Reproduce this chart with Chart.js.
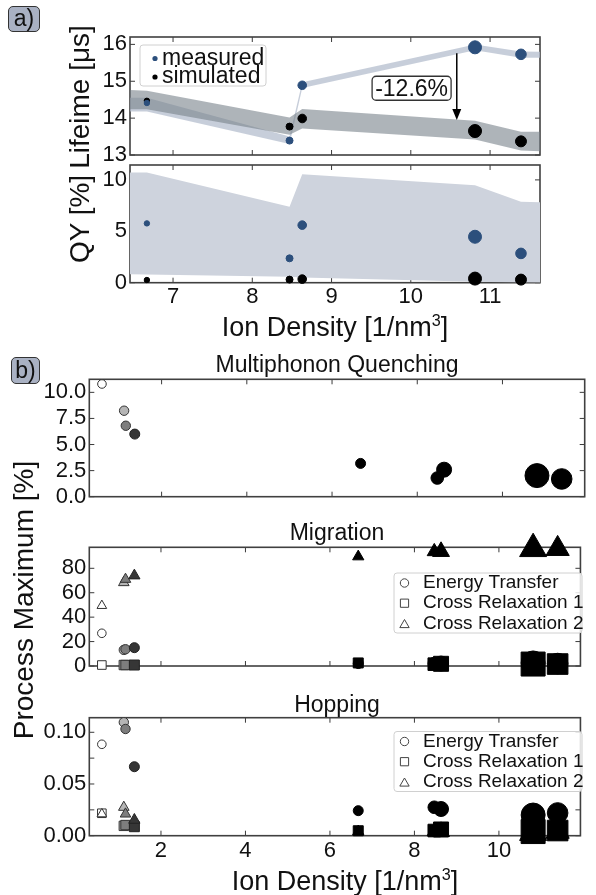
<!DOCTYPE html>
<html>
<head>
<meta charset="utf-8">
<script src="https://cdn.jsdelivr.net/npm/chart.js@4.4.1/dist/chart.umd.min.js"></script>
<style>
html, body { margin: 0; padding: 0; background: #fff; }
#fig { position: relative; width: 596px; height: 895px; overflow: hidden; font-family: "Liberation Sans", Arial, sans-serif; color: #111; }
#fig canvas { position: absolute; left: 0; top: 0; }
.lbl { position: absolute; white-space: nowrap; transform: translate(-50%, -50%); line-height: 1; }
.rot { transform: translate(-50%, -50%) rotate(-90deg); }
.tag { position: absolute; box-sizing: border-box; background: #a9b1c3; border: 1.5px solid #333; border-radius: 5px; font-size: 23px; text-align: center; }
sup { font-size: 60%; }
</style>
</head>
<body>
<div id="fig">
  <canvas id="life" width="596" height="895"></canvas>
  <canvas id="qy" width="596" height="895"></canvas>
  <canvas id="mq" width="596" height="895"></canvas>
  <canvas id="mig" width="596" height="895"></canvas>
  <canvas id="hop" width="596" height="895"></canvas>

  <div class="tag" style="left:8px;top:6px;width:32px;height:26px;line-height:23px;">a)</div>
  <div class="tag" style="left:11px;top:357px;width:29px;height:27px;line-height:24px;">b)</div>

  <div class="lbl rot" style="left:80px;top:97px;font-size:28px;">Lifeime [μs]</div>
  <div class="lbl rot" style="left:80px;top:219px;font-size:28px;">QY [%]</div>
  <div class="lbl" style="left:335px;top:326px;font-size:27px;">Ion Density [1/nm<sup>3</sup>]</div>

  <div class="lbl" style="left:337px;top:364px;font-size:23px;">Multiphonon Quenching</div>
  <div class="lbl" style="left:337px;top:532px;font-size:23px;">Migration</div>
  <div class="lbl" style="left:337px;top:704px;font-size:23px;">Hopping</div>
  <div class="lbl rot" style="left:24px;top:600px;font-size:28px;">Process Maximum [%]</div>
  <div class="lbl" style="left:345px;top:880px;font-size:27px;">Ion Density [1/nm<sup>3</sup>]</div>
</div>

<script>
// ---- panel a data ----
const densA = [6.67, 8.47, 8.63, 10.81, 11.39];
const lifeMeasured = [14.41, 13.39, 14.89, 15.92, 15.73];
const lifeSimulated = [14.47, 13.77, 13.99, 13.65, 13.37];
const qyMeasured = [5.77, 2.37, 5.6, 4.47, 2.85];
const qySimulated = [0.26, 0.3, 0.35, 0.4, 0.3];
const sizeMeasured = [2.7, 3.5, 4.3, 6.5, 5.3];
const sizeSimulated = [2.7, 3.5, 4.3, 6.5, 5.5];

// error bands (edges of the x range included)
const bandX = [6.457, 6.67, 8.47, 8.63, 10.81, 11.39, 11.63];
const lifeMeasHi = [14.55, 14.55, 13.5, 14.97, 16.0, 15.81, 15.8];
const lifeMeasLo = [14.18, 14.18, 13.3, 14.82, 15.84, 15.64, 15.64];
const lifeSimHi = [14.76, 14.74, 14.02, 14.25, 13.93, 13.63, 13.63];
const lifeSimLo = [14.24, 14.24, 13.55, 13.72, 13.42, 13.12, 13.1];
const qyHi = [10.72, 10.72, 7.38, 10.55, 9.49, 7.87, 7.82];
const qyLo = [0.82, 0.8, 0.58, 0.5, 0.1, 0.03, 0.0];

// annotation
const annotX = 10.58, annotFrom = 15.76, annotTo = 13.95;
const annotTextX = 10.01, annotTextY = 14.81, annotText = '-12.6%';

// ---- panel b data ----
const densB = [0.6, 1.12, 1.16, 1.37, 6.67, 8.47, 8.63, 10.81, 11.39];
const sizeB = [4.3, 4.7, 4.7, 5, 5, 6.3, 7.5, 12, 10.3];
const fillB = ['#ffffff', '#b5b5b5', '#7d7d7d', '#363636', '#000', '#000', '#000', '#000', '#000'];
const edgeB = ['#333', '#333', '#333', '#222', '#000', '#000', '#000', '#000', '#000'];
const mqValues = [10.8, 8.24, 6.8, 6.0, 3.19, 1.79, 2.59, 2.02, 1.7];
const migEnergy = [26.8, 13.2, 13.7, 15.0, 2.0, 2.0, 2.0, 2.5, 2.0];
const migCross1 = [0.8, 0.8, 0.8, 0.8, 2.5, 1.5, 1.8, 1.6, 1.6];
const migCross2 = [49.4, 68.3, 71.0, 74.0, 89.6, 93.7, 93.7, 96.0, 96.0];
const hopEnergy = [0.0884, 0.1097, 0.1032, 0.0667, 0.0242, 0.0275, 0.0258, 0.020, 0.022];
const hopCross1 = [0.0217, 0.0095, 0.0103, 0.0087, 0.0048, 0.005, 0.006, 0.004, 0.005];
const hopCross2 = [0.021, 0.0275, 0.021, 0.0152, 0.004, 0.004, 0.004, 0.003, 0.004];

// ---- ticks ----
const ticksAx = [7, 8, 9, 10, 11];
const ticksLife = [13, 14, 15, 16];
const ticksQY = [0, 5, 10];
const ticksBx = [2, 4, 6, 8, 10];
const ticksMQ = [0, 2.5, 5, 7.5, 10];
const ticksMig = [0, 20, 40, 60, 80];
const ticksHop = [0, 0.025, 0.05, 0.075, 0.1];

const FONT = "'Liberation Sans', Arial, sans-serif";
Chart.defaults.font.family = FONT;
Chart.defaults.color = '#111';

const W = 596, H = 895, XH = 40;
const BLUE = '#2c4f7c';

// frame + inward ticks on all four sides
const frameTicks = {
    id: 'frameTicks',
    beforeDatasetsDraw(chart) {
        const { ctx, chartArea: a, scales: { x, y } } = chart;
        const len = 5;
        ctx.save();
        ctx.strokeStyle = '#3a3a3a';
        ctx.lineWidth = 1;
        ctx.beginPath();
        x.ticks.forEach(t => {
            const p = x.getPixelForValue(t.value);
            ctx.moveTo(p, a.bottom); ctx.lineTo(p, a.bottom - len);
            ctx.moveTo(p, a.top); ctx.lineTo(p, a.top + len);
        });
        y.ticks.forEach(t => {
            const p = y.getPixelForValue(t.value);
            ctx.moveTo(a.left, p); ctx.lineTo(a.left + len, p);
            ctx.moveTo(a.right, p); ctx.lineTo(a.right - len, p);
        });
        ctx.stroke();
        ctx.lineWidth = 1.6;
        ctx.strokeStyle = '#404040';
        ctx.strokeRect(a.left, a.top, a.width, a.height);
        ctx.restore();
    }
};

function rrect(ctx, x, y, w, h, r) {
    ctx.beginPath();
    ctx.moveTo(x + r, y);
    ctx.arcTo(x + w, y, x + w, y + h, r);
    ctx.arcTo(x + w, y + h, x, y + h, r);
    ctx.arcTo(x, y + h, x, y, r);
    ctx.arcTo(x, y, x + w, y, r);
    ctx.closePath();
}

// o.left = pixel of the left spine (y-scale box width)
function axes(o) {
    return {
        x: {
            type: 'linear', min: o.xmin, max: o.xmax,
            afterFit: s => { s.height = XH; },
            afterBuildTicks: s => { s.ticks = o.xt.map(v => ({ value: v })); },
            grid: { display: false, drawTicks: false }, border: { display: false },
            ticks: { display: !!o.xlab, padding: o.xpad || 1, font: { size: 22 }, color: '#111', maxRotation: 0, autoSkip: false }
        },
        y: {
            type: 'linear', min: o.ymin, max: o.ymax,
            afterFit: s => { s.width = o.left; },
            afterBuildTicks: s => { s.ticks = o.yt.map(v => ({ value: v })); },
            grid: { display: false, drawTicks: false }, border: { display: false },
            ticks: { padding: 3, font: { size: 22 }, color: '#111', autoSkip: false, callback: o.yfmt || (v => v) }
        }
    };
}

function pad(t, r, b) { return { left: 0, top: t, right: W - r, bottom: H - b - XH }; }

function pts(xs, ys, r, fill, edge, style, order) {
    return {
        data: xs.map((x, i) => ({ x, y: ys[i] })),
        showLine: false, pointStyle: style, pointRadius: r,
        pointBackgroundColor: fill, pointBorderColor: edge, pointBorderWidth: 1,
        clip: false, order
    };
}

function band(xs, ys, fill, color, order) {
    return {
        data: xs.map((x, i) => ({ x, y: ys[i] })),
        showLine: true, borderWidth: 0, borderColor: 'rgba(0,0,0,0)', pointRadius: 0,
        tension: 0, fill: fill, backgroundColor: color, order
    };
}

function makeChart(id, datasets, scales, padding, extra) {
    return new Chart(document.getElementById(id), {
        type: 'line',
        data: { datasets },
        options: {
            responsive: false, animation: false, events: [],
            layout: { padding },
            plugins: { legend: { display: false }, tooltip: { enabled: false } },
            scales
        },
        plugins: [frameTicks].concat(extra || [])
    });
}

// ---- lifetime legend + annotation ----
const lifeExtras = {
    id: 'lifeExtras',
    afterDraw(chart) {
        const { ctx, scales: { x, y } } = chart;
        ctx.save();
        rrect(ctx, 140, 45, 126, 41, 3);
        ctx.fillStyle = 'rgba(255,255,255,0.85)'; ctx.fill();
        ctx.strokeStyle = '#d0d0d0'; ctx.lineWidth = 1; ctx.stroke();
        ctx.font = '23px ' + FONT;
        ctx.textBaseline = 'middle'; ctx.textAlign = 'left';
        [[BLUE, 'measured', 58.5], ['#000', 'simulated', 77]].forEach(([c, t, yy]) => {
            ctx.fillStyle = c; ctx.beginPath(); ctx.arc(155, yy, 2.6, 0, Math.PI * 2); ctx.fill();
            ctx.fillStyle = '#111'; ctx.fillText(t, 162, yy);
        });

        // arrow
        const ax = x.getPixelForValue(annotX);
        const y0 = y.getPixelForValue(annotFrom), y1 = y.getPixelForValue(annotTo);
        ctx.strokeStyle = '#000'; ctx.fillStyle = '#000'; ctx.lineWidth = 1.5;
        ctx.beginPath(); ctx.moveTo(ax, y0); ctx.lineTo(ax, y1 - 9); ctx.stroke();
        ctx.beginPath(); ctx.moveTo(ax - 4.5, y1 - 11); ctx.lineTo(ax + 4.5, y1 - 11); ctx.lineTo(ax, y1); ctx.closePath(); ctx.fill();

        // text box
        const cx = x.getPixelForValue(annotTextX), cy = y.getPixelForValue(annotTextY);
        rrect(ctx, cx - 39.5, cy - 12, 79, 24, 4);
        ctx.fillStyle = '#fff'; ctx.fill();
        ctx.strokeStyle = '#333'; ctx.lineWidth = 1.3; ctx.stroke();
        ctx.fillStyle = '#111'; ctx.textAlign = 'center'; ctx.font = '23px ' + FONT;
        ctx.fillText(annotText, cx, cy + 1);
        ctx.restore();
    }
};

function procLegend(top) {
    return {
        id: 'procLegend',
        afterDraw(chart) {
            const ctx = chart.ctx;
            ctx.save();
            rrect(ctx, 394, top, 188, 60, 3);
            ctx.fillStyle = 'rgba(255,255,255,0.85)'; ctx.fill();
            ctx.strokeStyle = '#d0d0d0'; ctx.lineWidth = 1; ctx.stroke();
            ctx.font = '19px ' + FONT; ctx.textBaseline = 'middle'; ctx.textAlign = 'left';
            const items = [['circle', 4.2, 'Energy Transfer'], ['rect', 5.8, 'Cross Relaxation 1'], ['triangle', 5.4, 'Cross Relaxation 2']];
            items.forEach(([st, r, t], i) => {
                const yy = top + 10 + i * 20.2;
                ctx.fillStyle = '#fff'; ctx.strokeStyle = '#444'; ctx.lineWidth = 1;
                Chart.helpers.drawPoint(ctx, { pointStyle: st, radius: r, borderWidth: 1, rotation: 0 }, 404.5, yy + (st === 'triangle' ? 1.5 : 0));
                ctx.fillStyle = '#111';
                ctx.fillText(t, 423, yy);
            });
            ctx.restore();
        }
    };
}

// ---- panel a charts ----
makeChart('life', [
    pts(densA, lifeMeasured, sizeMeasured, BLUE, BLUE, 'circle', 0),
    pts(densA, lifeSimulated, sizeSimulated, '#000', '#000', 'circle', 1),
    band(bandX, lifeSimHi, '+1', 'rgba(120,130,138,0.6)', 2),
    band(bandX, lifeSimLo, false, 'rgba(0,0,0,0)', 3),
    band(bandX, lifeMeasHi, '+1', 'rgba(180,190,205,0.75)', 4),
    band(bandX, lifeMeasLo, false, 'rgba(0,0,0,0)', 5)
], axes({ left: 130, xmin: 6.457, xmax: 11.63, ymin: 13, ymax: 16.2, xt: ticksAx, yt: ticksLife }),
   pad(37, 540, 155), [lifeExtras]);

makeChart('qy', [
    pts(densA, qyMeasured, sizeMeasured, BLUE, BLUE, 'circle', 0),
    pts(densA, qySimulated, sizeSimulated, '#000', '#000', 'circle', 1),
    band(bandX, qyHi, '+1', '#ced3dd', 2),
    band(bandX, qyLo, false, 'rgba(0,0,0,0)', 3)
], axes({ left: 130, xmin: 6.457, xmax: 11.63, ymin: 0, ymax: 11.45, xt: ticksAx, yt: ticksQY, xlab: true, xpad: 1 }),
   pad(165, 540, 282.7));

// ---- panel b charts ----
const sq = sizeB.map(r => r * 1.414);
const tri = sizeB.map(r => r * 1.3);

makeChart('mq', [
    pts(densB, mqValues, sizeB, fillB, edgeB, 'circle', 0)
], axes({ left: 89.3, xmin: 0.303, xmax: 11.93, ymin: 0, ymax: 11.25, xt: ticksBx, yt: ticksMQ, yfmt: v => v.toFixed(1) }),
   pad(379.3, 596, 496.7));

makeChart('mig', [
    pts(densB, migCross2, tri, fillB, edgeB, 'triangle', 0),
    pts(densB, migCross1, sq, fillB, edgeB, 'rect', 1),
    pts(densB, migEnergy, sizeB, fillB, edgeB, 'circle', 2)
], axes({ left: 89.3, xmin: 0.303, xmax: 11.93, ymin: 0, ymax: 97.2, xt: ticksBx, yt: ticksMig }),
   pad(547.3, 596, 666), [procLegend(573)]);

makeChart('hop', [
    pts(densB, hopCross2, tri, fillB, edgeB, 'triangle', 0),
    pts(densB, hopCross1, sq, fillB, edgeB, 'rect', 1),
    pts(densB, hopEnergy, sizeB, fillB, edgeB, 'circle', 2)
], axes({ left: 89.3, xmin: 0.303, xmax: 11.93, ymin: 0, ymax: 0.1141, xt: ticksBx, yt: ticksHop, xlab: true, xpad: 2,
          yfmt: v => (Math.round(v * 1000) % 50 === 0 ? v.toFixed(2) : '') }),
   pad(717.7, 596, 835.7), [procLegend(731.5)]);
</script>
</body>
</html>
